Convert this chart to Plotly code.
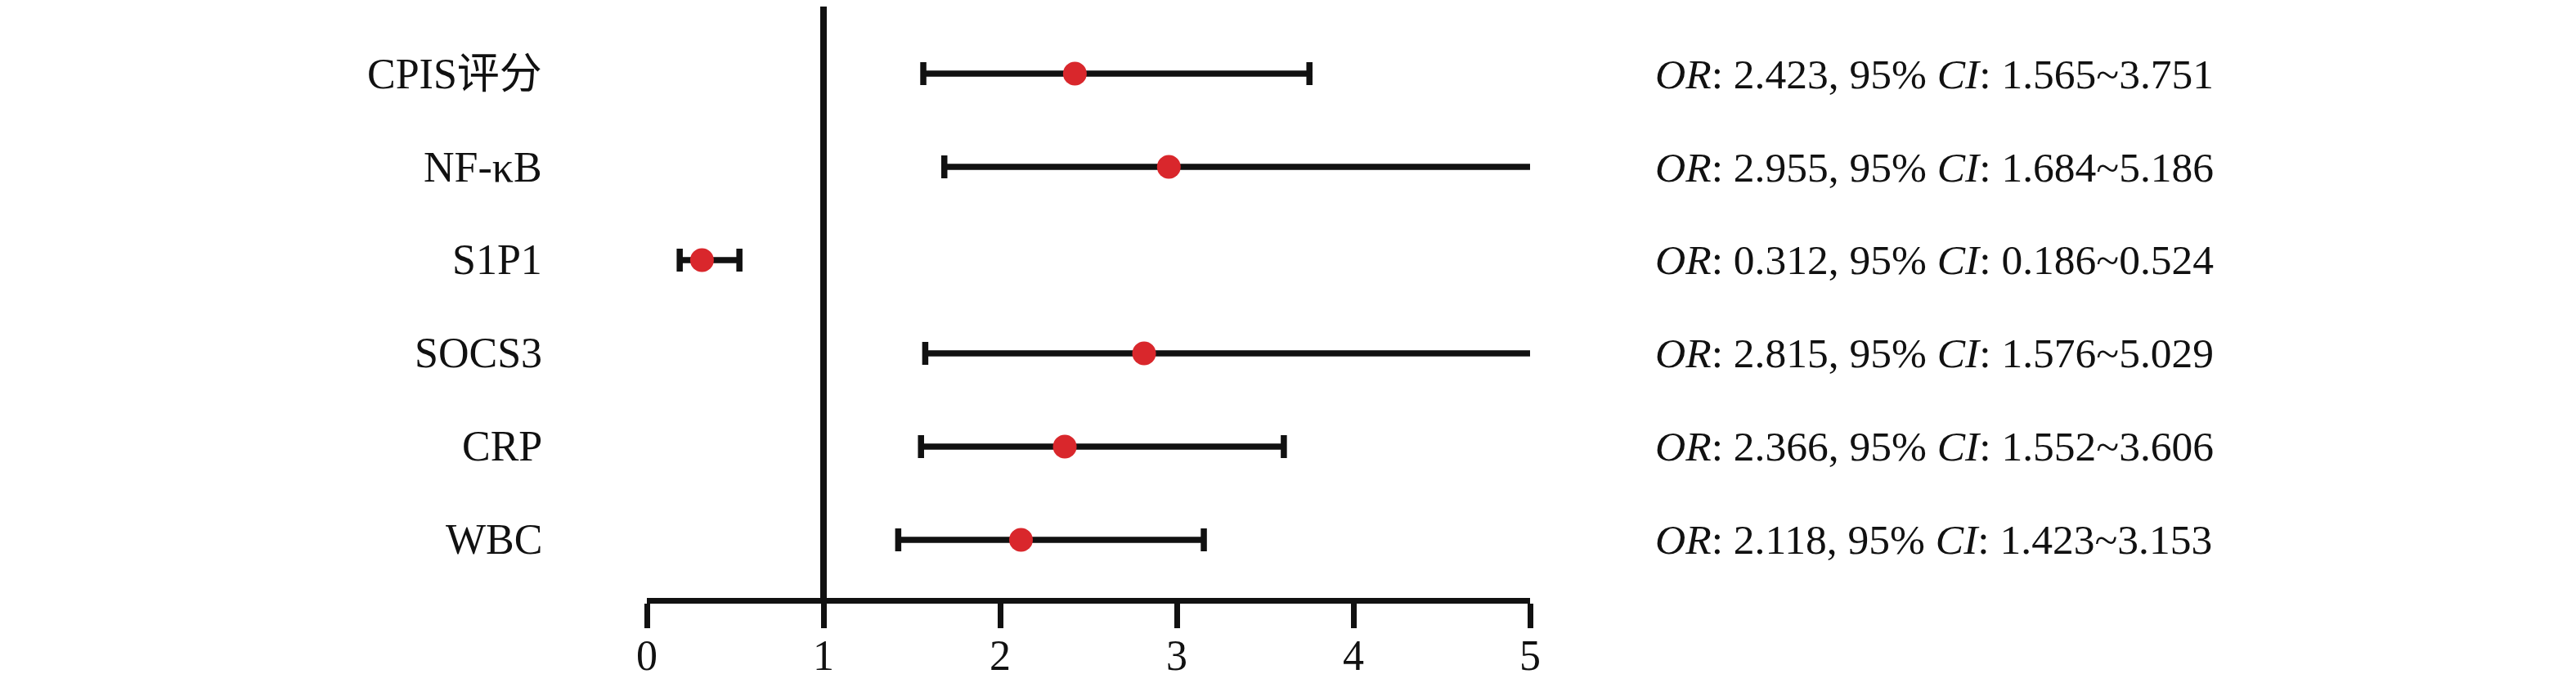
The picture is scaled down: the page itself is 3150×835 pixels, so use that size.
import plotly.graph_objects as go

labels = ["CPIS评分", "NF-κB", "S1P1", "SOCS3", "CRP", "WBC"]
or_vals = [2.423, 2.955, 0.312, 2.815, 2.366, 2.118]
ci_low = [1.565, 1.684, 0.186, 1.576, 1.552, 1.423]
ci_high = [3.751, 5.186, 0.524, 5.029, 3.606, 3.153]
x_ticks = [0, 1, 2, 3, 4, 5]

FONT = "Liberation Serif, Times New Roman, Noto Sans CJK SC, serif"
BLACK = "#111111"
RED = "#d9272c"

W, H = 3150, 835
L, R, T, B = 783, 3150 - 1863, 0, 112

fig = go.Figure()
fig.add_trace(go.Scatter(
    x=or_vals,
    y=labels,
    mode="markers",
    marker=dict(size=29, color=RED, line=dict(width=0)),
    error_x=dict(
        type="data",
        symmetric=False,
        array=[h - o for h, o in zip(ci_high, or_vals)],
        arrayminus=[o - l for o, l in zip(or_vals, ci_low)],
        color=BLACK,
        thickness=7.5,
        width=14,
    ),
    showlegend=False,
    hoverinfo="skip",
))

fig.add_shape(type="line", xref="x", yref="paper", x0=1, x1=1, y0=0, y1=1,
              line=dict(color=BLACK, width=8), layer="above")

for lab, o, lo, hi in zip(labels, or_vals, ci_low, ci_high):
    fig.add_annotation(xref="paper", yref="y", x=0, y=lab, xanchor="right",
                       xshift=-126, text=lab, showarrow=False,
                       font=dict(family=FONT, size=52, color=BLACK))
    fig.add_annotation(xref="paper", yref="y", x=1, y=lab, xanchor="left",
                       xshift=151,
                       text=f"<i>OR</i>: {o:.3f}, 95% <i>CI</i>: {lo:.3f}~{hi:.3f}",
                       showarrow=False,
                       font=dict(family=FONT, size=51.5, color=BLACK))

n = len(labels)
fig.update_layout(
    width=W, height=H,
    margin=dict(l=L, r=R, t=T, b=B, pad=0),
    paper_bgcolor="white", plot_bgcolor="white",
    xaxis=dict(
        range=[0, 5], tickvals=x_ticks, ticktext=[str(t) for t in x_ticks],
        showgrid=False, zeroline=False, showline=True, linewidth=7,
        linecolor=BLACK, ticks="outside", ticklen=30, tickwidth=7,
        tickcolor=BLACK, tickfont=dict(family=FONT, size=52, color=BLACK),
        automargin=False, ticklabelstandoff=-11,
    ),
    yaxis=dict(
        type="category", categoryorder="array", categoryarray=labels[::-1],
        range=[-0.624, n - 0.28], showgrid=False, zeroline=False,
        showline=False, showticklabels=False, ticks="", automargin=False,
    ),
)

fig.write_html("out.html")
